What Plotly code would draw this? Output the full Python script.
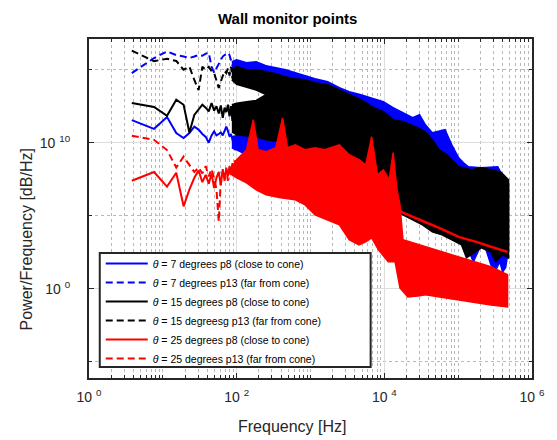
import plotly.graph_objects as go

# ---------------- data ----------------
# low-frequency bins [Hz]
low_freq = [3.8, 7.6, 11.4, 15.2, 19.1, 22.9, 26.7, 30.5, 34.3, 38.1, 41.9, 45.7, 49.5,
            53.3, 57.2, 61.0, 64.8, 68.6, 72.4, 76.2, 80.0, 83.8, 87.6, 91.4, 95.3, 99.1]
# log10 of PSD for each series in the low-frequency range
blue_p8_low = [11.55, 10.95, 11.76, 10.66, 10.32, 10.66, 11.1, 10.9, 10.6, 10.4, 10.0, 10.5, 10.77,
               10.5, 10.6, 10.7, 10.5, 10.75, 11.1, 10.8, 10.43, 10.6, 10.2, 9.9, 9.5, 9.7]
blue_p13_low = [14.77, 15.8, 16.25, 16.0, 15.9, 15.8, 15.9, 16.0, 15.95, 16.1, 16.15, 15.2, 14.8,
                15.1, 15.4, 15.7, 15.9, 16.0, 16.1, 16.15, 16.0, 15.6, 15.3, 15.2, 15.0, 15.3]
black_p8_low = [12.72, 12.45, 11.85, 12.95, 12.6, 10.7, 11.9, 12.26, 12.6, 12.4, 12.15, 12.72, 12.2,
                12.5, 12.0, 12.55, 11.7, 12.4, 12.1, 12.6, 11.8, 12.5, 11.5, 12.3, 11.2, 12.0]
black_p13_low = [16.3, 15.58, 15.75, 15.6, 15.0, 15.2, 14.3, 13.6, 15.2, 15.0, 15.2, 14.9, 14.77,
                 14.3, 13.75, 14.2, 14.5, 14.9, 14.77, 15.1, 14.6, 15.2, 14.4, 15.0, 14.7, 15.2]
red_p8_low = [7.4, 8.0, 7.0, 7.95, 5.65, 6.8, 7.6, 8.1, 7.3, 7.8, 7.2, 7.9, 6.9,
              7.6, 8.0, 7.1, 8.2, 7.4, 8.3, 7.7, 8.4, 7.9, 8.6, 8.1, 8.8, 8.5]
red_p13_low = [10.48, 10.2, 9.5, 8.3, 9.05, 8.5, 8.0, 8.3, 7.9, 8.4, 7.7, 8.2, 7.6,
               6.8, 4.6, 7.5, 8.0, 7.6, 8.1, 7.4, 8.2, 7.8, 8.5, 7.9, 8.6, 8.3]

# 86-250 Hz: each series is still a separate dense band (upper envelope rising f, lower falling f)
trans_up_f = [86, 100, 136, 184, 250]
trans_lo_f = [250, 184, 136, 100, 86]
blue_p13_tr_up = [15.55, 15.68, 15.48, 15.55, 15.27]
blue_p13_tr_lo = [14.0, 14.3, 14.5, 14.7, 14.8]
blue_p8_tr_up = [10.4, 10.5, 10.6, 10.7, 11.0]
blue_p8_tr_lo = [8.9, 8.97, 9.18, 9.52, 9.66]
black_p13_tr_up = [15.0, 15.21, 15.0, 15.0, 14.86]
black_p13_tr_lo = [13.3, 13.6, 13.8, 14.0, 14.3]
black_p8_tr_up = [12.6, 12.7, 12.8, 12.9, 13.3]
black_p8_tr_lo = [10.21, 10.4, 10.48, 10.55, 10.75]

# above 250 Hz: merged dense bands per colour
blue_up_f = [250, 339, 459, 623, 845, 1150, 1710, 2460, 3340, 4810, 7150, 9700,
             13150, 17860, 24200, 30000, 36000, 44600, 55200, 66300, 82000, 101600, 118300, 137700,
             204700, 277700, 343800, 413000, 481000]
blue_up_e = [15.27, 15.14, 15.0, 14.79, 14.59, 14.38, 14.18, 13.77, 13.49,
             13.29, 13.01, 12.81, 12.40, 12.05, 11.71, 11.92, 11.23, 10.68, 10.82, 10.89, 9.86, 8.97,
             8.63, 8.36, 8.29, 8.36, 8.36, 7.60, 7.12]
blue_lo_f = [481000, 438500, 400800, 365500, 323600, 277700, 238500, 204700, 160400, 146500, 137700,
             111300, 82000, 60400, 44600, 36000, 30000, 24200, 13150, 7150, 3885, 2112, 1150, 623,
             339, 250]
blue_lo_e = [2.67, 1.44, 1.16, 1.85, 1.30, 1.64, 2.67, 3.01, 1.85, 2.33, 3.36, 3.49, 4.04, 4.38, 4.73,
             5.62, 6.10, 6.10, 6.44, 7.12, 7.47, 8.01, 8.29, 8.49, 8.84, 8.9]

black_up_f = [250, 339, 459, 623, 845, 1150, 1710, 2460, 3340, 4810, 7150, 9700,
              13150, 17860, 26550, 36000, 44600, 55200, 70500, 101600, 151000, 204700, 277700,
              376700, 481000]
black_up_e = [14.86, 14.73, 14.52, 14.38, 14.32, 14.11, 13.97, 13.63, 13.29,
              12.95, 12.40, 12.12, 11.58, 11.44, 11.10, 10.75, 10.21, 9.52, 9.18, 8.36, 8.15, 8.29,
              8.15, 8.01, 7.47]
black_lo_f = [481000, 400800, 323600, 277700, 204700, 129600, 111300, 82000, 60400, 44600, 32860,
              24200, 17860, 13150, 9700, 6140, 3885, 2460, 1556, 984, 623, 394, 250]
black_lo_e = [2.12, 2.33, 1.85, 2.53, 2.81, 2.12, 3.01, 3.36, 3.70, 3.90, 4.38, 4.73, 5.07, 5.41, 5.75,
              6.23, 6.78, 7.33, 7.81, 8.84, 9.52, 10.07, 10.21]

red_up_f = [86, 100, 136, 168, 195.5, 250, 339, 419.5, 488, 623, 845, 1150, 1556, 2460, 3340, 4525,
            5600, 6730, 8080, 9700, 11650, 13150, 14860, 16290, 17860, 36000, 101600, 277700, 466700]
red_up_e = [8.15, 8.84, 9.52, 11.58, 9.52, 9.38, 9.66, 11.71, 9.66, 9.86, 9.52, 9.66, 9.52, 9.86, 9.18,
            8.84, 8.49, 10.41, 7.81, 8.15, 7.47, 9.32, 6.78, 5.75, 3.36, 2.88, 2.19, 1.51, 0.96]
red_lo_f = [466700, 277700, 101600, 36000, 30000, 20800, 16290, 13990, 11300, 8330, 6730, 5600, 4525,
            3340, 2460, 1710, 1150, 845, 623, 394, 250, 184, 136, 100, 86]
red_lo_e = [-1.23, -1.10, -0.75, -0.41, -0.48, -0.55, 0.07, 1.85, 1.85, 2.67, 3.49, 3.22, 3.01, 3.36,
            4.38, 4.73, 5.07, 5.75, 6.10, 6.23, 6.44, 6.78, 7.26, 7.60, 7.81]

red_smooth_f = [13150, 17860, 30000, 55200, 101600, 175800, 277700, 466700]
red_smooth_e = [5.75, 5.21, 4.73, 4.18, 3.56, 3.22, 2.88, 2.53]

series_names = [
    "<i>θ</i> = 7 degrees p8 (close to cone)",
    "<i>θ</i> = 7 degrees p13 (far from cone)",
    "<i>θ</i> = 15 degrees p8 (close to cone)",
    "<i>θ</i> = 15 degreesg p13 (far from cone)",
    "<i>θ</i> = 25 degrees p8 (close to cone)",
    "<i>θ</i> = 25 degrees p13 (far from cone)",
]

x_tick_vals = [1, 1e2, 1e4, 1e6]
x_tick_text = ["10 <sup>0</sup>", "10 <sup>2</sup>", "10 <sup>4</sup>", "10 <sup>6</sup>"]
y_tick_vals = [1, 1e10]
y_tick_text = ["10 <sup>0</sup>", "10 <sup>10</sup>"]


def pw(exps):
    return [10 ** v for v in exps]


BLUE, BLACK, RED = "#0000FF", "#000000", "#FF0000"
DASH = "7px,4px"

fig = go.Figure()


def add_line(y_exp, color, dash, name):
    fig.add_trace(go.Scatter(x=low_freq, y=pw(y_exp), mode="lines", name=name,
                             line=dict(color=color, width=2, dash=dash), hoverinfo="skip"))


def add_band(fu, eu, fl, el, color):
    fig.add_trace(go.Scatter(x=fu + fl, y=pw(eu + el), mode="lines", fill="toself",
                             fillcolor=color, line=dict(color=color, width=1.5),
                             showlegend=False, hoverinfo="skip"))


add_line(blue_p8_low, BLUE, "solid", series_names[0])
add_line(blue_p13_low, BLUE, DASH, series_names[1])
add_band(trans_up_f, blue_p8_tr_up, trans_lo_f, blue_p8_tr_lo, BLUE)
add_band(trans_up_f, blue_p13_tr_up, trans_lo_f, blue_p13_tr_lo, BLUE)
add_band(blue_up_f, blue_up_e, blue_lo_f, blue_lo_e, BLUE)
add_line(black_p8_low, BLACK, "solid", series_names[2])
add_line(black_p13_low, BLACK, DASH, series_names[3])
add_band(trans_up_f, black_p8_tr_up, trans_lo_f, black_p8_tr_lo, BLACK)
add_band(trans_up_f, black_p13_tr_up, trans_lo_f, black_p13_tr_lo, BLACK)
add_band(black_up_f, black_up_e, black_lo_f, black_lo_e, BLACK)
add_line(red_p8_low, RED, "solid", series_names[4])
add_line(red_p13_low, RED, DASH, series_names[5])
add_band(red_up_f, red_up_e, red_lo_f, red_lo_e, RED)
fig.add_trace(go.Scatter(x=red_smooth_f, y=pw(red_smooth_e), mode="lines",
                         line=dict(color=RED, width=2.5), showlegend=False, hoverinfo="skip"))

x_minor = []
for d in range(0, 6):
    for m in range(2, 10):
        x_minor.append(m * 10 ** d)
x_minor += [10, 1e3, 1e5]
y_minor = [1e-5, 1e5, 1e15]

FONT = "Liberation Sans, Arial, Helvetica, sans-serif"
AXC = "#262626"

# plot area in pixels: x 89..542, y 39..378
L, R, T, B = 89, 542, 39, 378
W, H = R - L, B - T


def px_x(x):
    return (x - L) / W


def px_y(y):
    return (B - y) / H


fig.update_layout(
    width=557, height=440,
    margin=dict(l=L, r=557 - R, t=T, b=440 - B),
    paper_bgcolor="white", plot_bgcolor="white",
    font=dict(family=FONT, color=AXC, size=14),
    showlegend=True,
    legend=dict(x=px_x(101), y=px_y(249), xanchor="left", yanchor="top",
                bgcolor="rgba(0,0,0,0)", borderwidth=0,
                font=dict(size=10.5, color="#000000", family=FONT),
                tracegroupgap=0, itemwidth=42),
    shapes=[dict(type="rect", xref="paper", yref="paper", layer="above",
                 x0=px_x(100), x1=px_x(377), y0=px_y(367), y1=px_y(253),
                 fillcolor="white", line=dict(color="#262626", width=2))],
    annotations=[
        dict(text="<b>Wall monitor points</b>", xref="paper", yref="paper",
             x=px_x(292), y=px_y(18.5), xanchor="center", yanchor="middle", showarrow=False,
             font=dict(size=15, color="#000000", family=FONT)),
        dict(text="Frequency [Hz]", xref="paper", yref="paper",
             x=px_x(297), y=px_y(426), xanchor="center", yanchor="middle", showarrow=False,
             font=dict(size=16, color=AXC, family=FONT)),
        dict(text="Power/Frequency [dB/Hz]", xref="paper", yref="paper", textangle=-90,
             x=px_x(25), y=px_y(239), xanchor="center", yanchor="middle", showarrow=False,
             font=dict(size=16, color=AXC, family=FONT)),
    ],
)

fig.update_xaxes(
    type="log", range=[0, 6], tickmode="array", tickvals=x_tick_vals, ticktext=x_tick_text,
    ticks="inside", ticklen=5, tickwidth=1, tickcolor=AXC, ticklabelstandoff=5,
    showline=True, linecolor=AXC, linewidth=2, mirror="ticks",
    showgrid=True, gridcolor="#dedede", gridwidth=1, zeroline=False,
    minor=dict(tickmode="array", tickvals=x_minor, ticks="inside", ticklen=3, tickcolor=AXC,
               showgrid=True, gridcolor="#b8b8b8", griddash="dot", gridwidth=1),
    tickfont=dict(size=14, color=AXC),
)
fig.update_yaxes(
    type="log", range=[-6.1, 17.1], tickmode="array", tickvals=y_tick_vals, ticktext=y_tick_text,
    ticks="inside", ticklen=5, tickwidth=1, tickcolor=AXC, ticklabelstandoff=14,
    showline=True, linecolor=AXC, linewidth=2, mirror="ticks",
    showgrid=True, gridcolor="#dedede", gridwidth=1, zeroline=False,
    minor=dict(tickmode="array", tickvals=y_minor, ticks="inside", ticklen=3, tickcolor=AXC,
               showgrid=True, gridcolor="#b8b8b8", griddash="dot", gridwidth=1),
    tickfont=dict(size=14, color=AXC),
)

fig.write_html("out.html")
